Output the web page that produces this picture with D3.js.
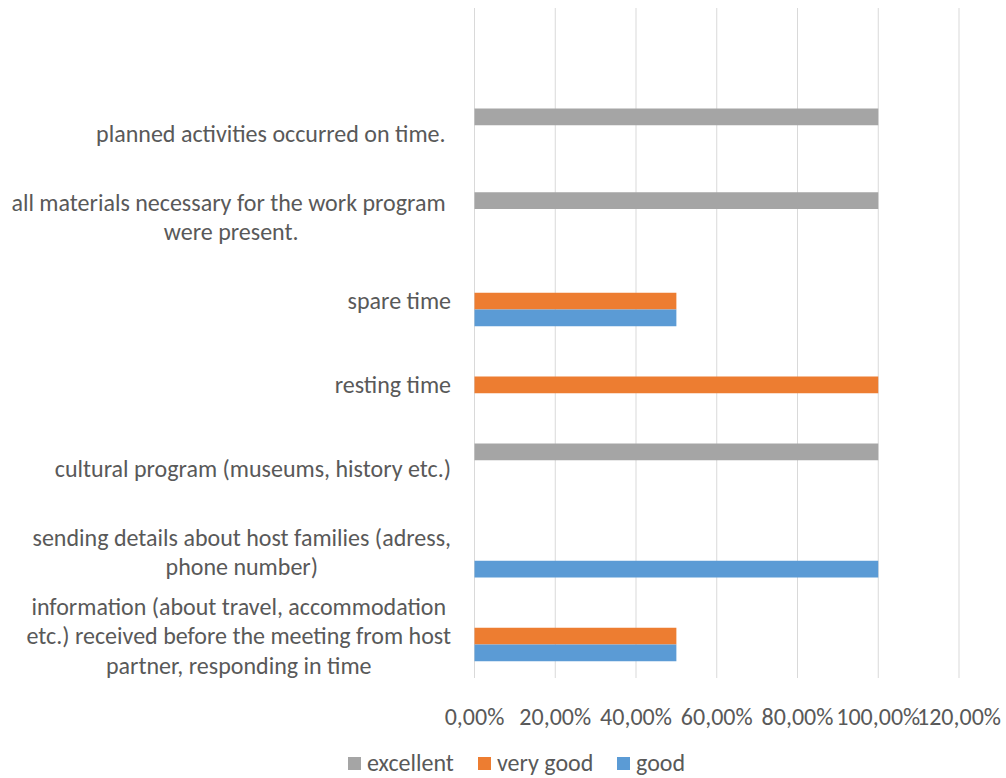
<!DOCTYPE html>
<html>
<head>
<meta charset="utf-8">
<script src="https://cdn.jsdelivr.net/npm/d3@7"></script>
<style>
  body { margin: 0; background: #fff; }
  svg text { font-family: Carlito, Calibri, Lato, sans-serif; fill: #595959; font-size: 24px; white-space: pre; }
</style>
</head>
<body>
<div id="chart"></div>
<script>
"use strict";

// categories, top to bottom (the first one is an empty row, as in the source)
var categories = [
	"",
	"planned activities occurred on time. ",
	"all materials necessary for the work program \nwere present.",
	"spare time",
	"resting time",
	"cultural program (museums, history etc.)",
	"sending details about host families (adress,\nphone number)",
	"information (about travel, accommodation\netc.) received before the meeting from host\npartner, responding in time"
];

var series = ["excellent", "very good", "good"];
var excellent = [null, 1, 1, 0, 0, 1, 0, 0];
var veryGood  = [null, 0, 0, 0.5, 1, 0, 0, 0.5];
var good      = [null, 0, 0, 0.5, 0, 0, 1, 0.5];
var ticks = [0, 0.2, 0.4, 0.6, 0.8, 1, 1.2];

var colors = { "excellent": "#a5a5a5", "very good": "#ed7d31", "good": "#5b9bd5" };

var width = 1006, height = 778;
var margin = { top: 8, right: 47, bottom: 100, left: 474.5 };

var svg = d3.select("#chart").append("svg")
	.attr("width", width)
	.attr("height", height);

var x = d3.scaleLinear()
	.domain([0, 1.2])
	.range([margin.left, width - margin.right]);

var y = d3.scaleBand()
	.domain(categories)
	.range([margin.top, height - margin.bottom]);

// 3 bars per row, gap of 2 bar widths like excel's 200% gap
var ySub = d3.scaleBand()
	.domain(series)
	.range([0, y.bandwidth()])
	.paddingInner(0)
	.paddingOuter(1);

// gridlines
svg.append("g").selectAll("line")
	.data(ticks)
	.enter().append("line")
	.attr("x1", d => x(d)).attr("x2", d => x(d))
	.attr("y1", margin.top).attr("y2", height - margin.bottom)
	.attr("stroke", "#d9d9d9")
	.attr("stroke-width", 1);

// tick labels
var fmt = d => (d * 100).toFixed(2).replace(".", ",") + "%";
svg.append("g").selectAll("text")
	.data(ticks)
	.enter().append("text")
	.attr("x", d => x(d))
	.attr("y", height - margin.bottom + 47)
	.attr("text-anchor", "middle")
	.text(fmt);

// bars
var values = { "excellent": excellent, "very good": veryGood, "good": good };
series.forEach(function (s) {
	svg.append("g").selectAll("rect")
		.data(categories.map((c, i) => ({ cat: c, v: values[s][i] })).filter(d => d.v > 0))
		.enter().append("rect")
		.attr("x", x(0))
		.attr("y", d => y(d.cat) + ySub(s))
		.attr("width", d => x(d.v) - x(0))
		.attr("height", ySub.bandwidth())
		.attr("fill", colors[s]);
});

// category labels: block right-aligned, lines centred
var lineH = 29.5;
var labelRight = 451;
categories.forEach(function (c) {
	if (!c) return;
	var lines = c.split("\n");
	var t = svg.append("text")
		.attr("text-anchor", "middle");
	var cy = y(c) + y.bandwidth() / 2;
	lines.forEach(function (l, i) {
		t.append("tspan")
			.attr("y", cy + (i - (lines.length - 1) / 2) * lineH + 8)
			.text(l);
	});
	var maxW = 0;
	t.selectAll("tspan").each(function () {
		maxW = Math.max(maxW, this.getComputedTextLength());
	});
	t.selectAll("tspan").attr("x", labelRight - maxW / 2);
});

// legend
var legendX = [348, 478, 617];
var lg = svg.append("g").selectAll("g")
	.data(series)
	.enter().append("g")
	.attr("transform", (d, i) => "translate(" + legendX[i] + ",757)");
lg.append("rect")
	.attr("width", 13).attr("height", 13)
	.attr("fill", d => colors[d]);
lg.append("text")
	.attr("x", 19).attr("y", 14)
	.text(d => d);
</script>
</body>
</html>
